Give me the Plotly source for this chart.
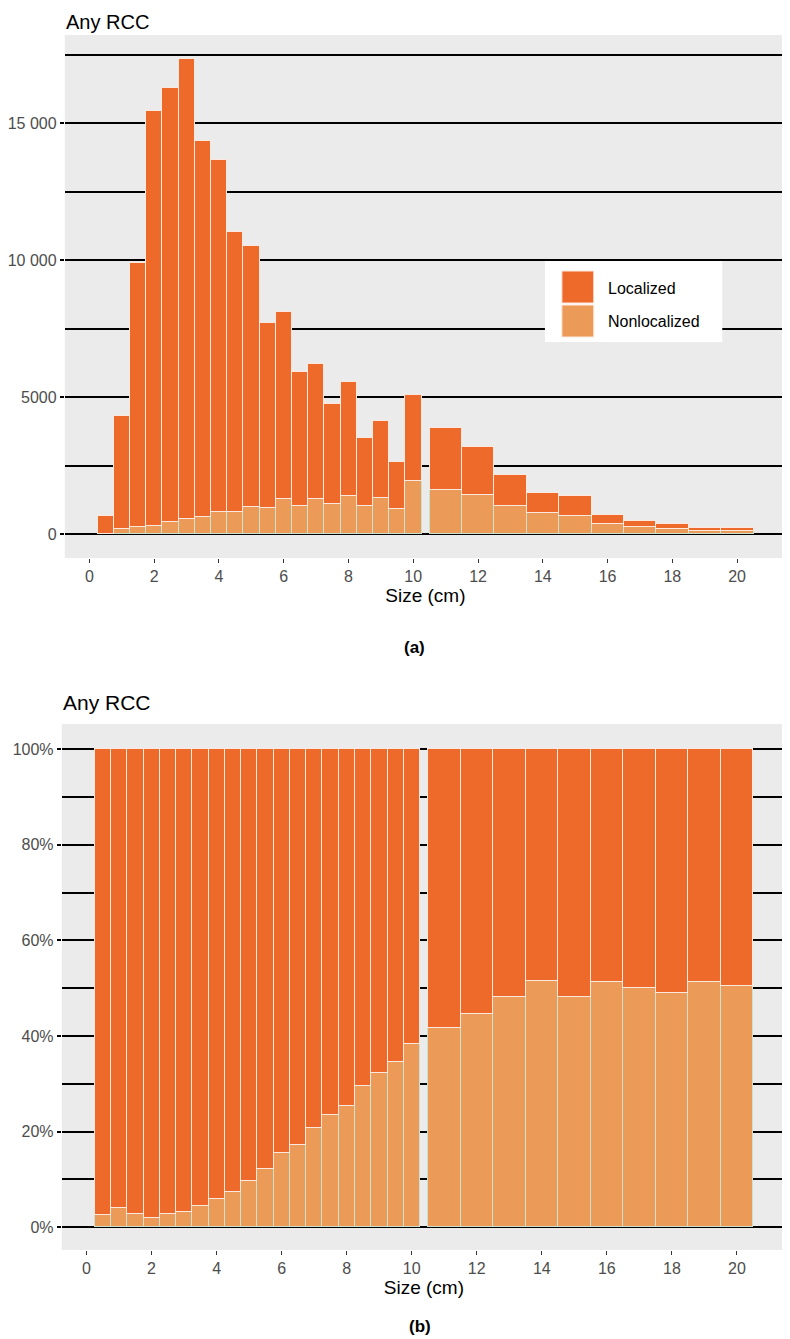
import plotly.graph_objects as go

# ---------------- data ----------------
size_center = [0.5, 1.0, 1.5, 2.0, 2.5, 3.0, 3.5, 4.0, 4.5, 5.0,
               5.5, 6.0, 6.5, 7.0, 7.5, 8.0, 8.5, 9.0, 9.5, 10.0,
               11, 12, 13, 14, 15, 16, 17, 18, 19, 20]
bin_width = [0.5] * 20 + [1.0] * 10
localized = [633, 4126, 9637, 15137, 15857, 16795, 13714, 12845, 10214, 9492,
             6778, 6857, 4893, 4934, 3641, 4138, 2464, 2796, 1732, 3126,
             2250, 1759, 1126, 724, 719, 343, 250, 191, 112, 114]
nonlocalized = [17, 174, 263, 303, 433, 555, 631, 805, 816, 1008,
                942, 1268, 1017, 1296, 1119, 1402, 1036, 1334, 913, 1949,
                1610, 1421, 1044, 766, 666, 362, 250, 184, 118, 116]
x_ticks = [0, 2, 4, 6, 8, 10, 12, 14, 16, 18, 20]
count_tickvals = [0, 5000, 10000, 15000]
count_ticktext = ["0", "5000", "10 000", "15 000"]
count_minor = [2500, 7500, 12500, 17500]
pct_tickvals = [0, 20, 40, 60, 80, 100]
pct_ticktext = ["0%", "20%", "40%", "60%", "80%", "100%"]
pct_minor = [10, 30, 50, 70, 90]

totals = [a + b for a, b in zip(localized, nonlocalized)]
loc_pct = [a / t * 100 for a, t in zip(localized, totals)]
non_pct = [b / t * 100 for b, t in zip(nonlocalized, totals)]

# ---------------- style ----------------
PAGE_W, PAGE_H = 790, 1339
OFF = 8  # default body margin of the html page
W, H = PAGE_W - OFF, PAGE_H - OFF
C_LOC = "#EE6A2B"
C_NON = "#EC9A58"
LINE_LOC = "#FBE9DF"
LINE_NON = "#C9E2CF"
BG = "#EBEBEB"
FONT = "Liberation Sans, Arial, sans-serif"
TICKC = "#4D4D4D"

def px_x(x):
    return (x - OFF) / W

def px_y(y):
    return 1 - (y - OFF) / H

fig = go.Figure()

# panel (a) counts
fig.add_trace(go.Bar(x=size_center, y=nonlocalized, width=bin_width, name="Nonlocalized",
                     marker=dict(color=C_NON, line=dict(color=LINE_NON, width=1)),
                     xaxis="x", yaxis="y", showlegend=False))
fig.add_trace(go.Bar(x=size_center, y=localized, width=bin_width, name="Localized",
                     marker=dict(color=C_LOC, line=dict(color=LINE_LOC, width=1)),
                     xaxis="x", yaxis="y", showlegend=False))
# panel (b) proportions
fig.add_trace(go.Bar(x=size_center, y=non_pct, width=bin_width, name="Nonlocalized",
                     marker=dict(color=C_NON, line=dict(color=LINE_NON, width=1)),
                     xaxis="x2", yaxis="y2", showlegend=False))
fig.add_trace(go.Bar(x=size_center, y=loc_pct, width=bin_width, name="Localized",
                     marker=dict(color=C_LOC, line=dict(color=LINE_LOC, width=1)),
                     xaxis="x2", yaxis="y2", showlegend=False))

xaxis_common = dict(range=[-0.76, 21.51], tickvals=x_ticks, ticks="outside", ticklen=4,
                    tickwidth=1.2, tickcolor="#333333", showgrid=False, zeroline=False,
                    showline=False, tickfont=dict(size=16, color=TICKC, family=FONT),
                    title=dict(text="Size (cm)", font=dict(size=19, color="black", family=FONT),
                               standoff=3))
yaxis_common = dict(ticks="outside", ticklen=4, tickwidth=1.6, tickcolor="black",
                    showgrid=True, gridcolor="black", gridwidth=1.6, zeroline=False,
                    showline=False, tickfont=dict(size=16, color=TICKC, family=FONT))

fig.update_layout(
    width=W, height=H,
    margin=dict(l=0, r=0, t=0, b=0),
    paper_bgcolor="white", plot_bgcolor=BG,
    barmode="stack", bargap=0,
    font=dict(family=FONT),
    xaxis=dict(domain=[px_x(62), px_x(786)], anchor="y", **xaxis_common),
    yaxis=dict(domain=[px_y(558), px_y(35)], anchor="x", range=[-867, 18217],
               tickvals=count_tickvals, ticktext=count_ticktext,
               minor=dict(tickvals=count_minor, showgrid=True, gridcolor="black",
                          gridwidth=1.6, ticks=""),
               **yaxis_common),
    xaxis2=dict(domain=[px_x(59), px_x(786)], anchor="y2", **xaxis_common),
    yaxis2=dict(domain=[px_y(1250), px_y(724)], anchor="x2", range=[-4.8, 105.3],
                tickvals=pct_tickvals, ticktext=pct_ticktext,
                minor=dict(tickvals=pct_minor, showgrid=True, gridcolor="black",
                           gridwidth=1.6, ticks=""),
                **yaxis_common),
)

annotations = [
    dict(text="Any RCC", x=px_x(61), y=px_y(9), xanchor="left", yanchor="top",
         font=dict(size=20, color="black", family=FONT)),
    dict(text="Any RCC", x=px_x(58), y=px_y(702), xanchor="left", yanchor="middle",
         font=dict(size=21, color="black", family=FONT)),
    dict(text="<b>(a)</b>", x=px_x(413), y=px_y(647), xanchor="center", yanchor="middle",
         font=dict(size=17, color="black", family=FONT)),
    dict(text="<b>(b)</b>", x=px_x(419), y=px_y(1326), xanchor="center", yanchor="middle",
         font=dict(size=17, color="black", family=FONT)),
    dict(text="Localized", x=px_x(605), y=px_y(288), xanchor="left", yanchor="middle",
         font=dict(size=16, color="black", family=FONT)),
    dict(text="Nonlocalized", x=px_x(605), y=px_y(322), xanchor="left", yanchor="middle",
         font=dict(size=16, color="black", family=FONT)),
]
for a in annotations:
    a.update(xref="paper", yref="paper", showarrow=False)

shapes = [
    dict(type="rect", x0=px_x(544), x1=px_x(722), y0=px_y(342), y1=px_y(261),
         fillcolor="white", line=dict(width=0), layer="above"),
    dict(type="rect", x0=px_x(561), x1=px_x(593), y0=px_y(303), y1=px_y(271),
         fillcolor=C_LOC, line=dict(color=LINE_LOC, width=1), layer="above"),
    dict(type="rect", x0=px_x(561), x1=px_x(593), y0=px_y(337), y1=px_y(305),
         fillcolor=C_NON, line=dict(color=LINE_LOC, width=1), layer="above"),
]
for s in shapes:
    s.update(xref="paper", yref="paper")

fig.update_layout(annotations=annotations, shapes=shapes)

fig.write_html("out.html")
